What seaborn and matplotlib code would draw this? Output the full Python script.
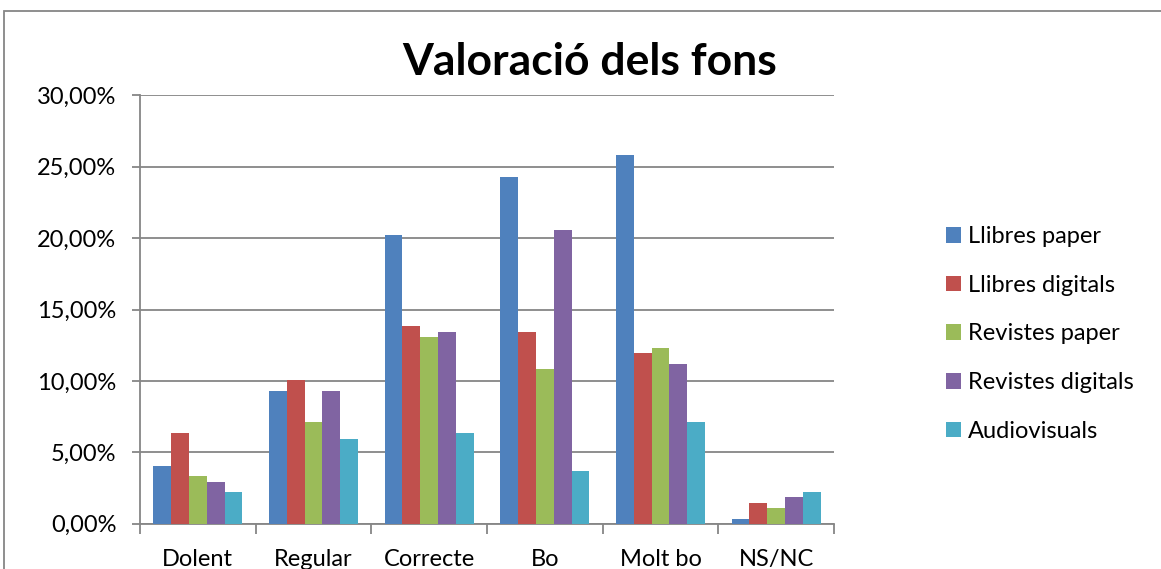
import pandas as pd
import seaborn as sns
from matplotlib import pyplot as plt
import matplotlib.ticker as mtick
from matplotlib.patches import Rectangle

categories = ["Dolent", "Regular", "Correcte", "Bo", "Molt bo", "NS/NC"]
series = ["Llibres paper", "Llibres digitals", "Revistes paper",
          "Revistes digitals", "Audiovisuals"]

llibres_paper = [4.06, 9.32, 20.20, 24.31, 25.80, 0.33]
llibres_digitals = [6.35, 10.04, 13.82, 13.45, 11.93, 1.45]
revistes_paper = [3.32, 7.10, 13.07, 10.81, 12.33, 1.07]
revistes_digitals = [2.94, 9.32, 13.45, 20.55, 11.21, 1.84]
audiovisuals = [2.19, 5.95, 6.35, 3.71, 7.10, 2.19]

colors = ["#4F81BD", "#C0504D", "#9BBB59", "#8064A2", "#4BACC6"]

values = [llibres_paper, llibres_digitals, revistes_paper,
          revistes_digitals, audiovisuals]
rows = []
for name, vals in zip(series, values):
    for cat, v in zip(categories, vals):
        rows.append({"Categoria": cat, "Fons": name, "Valor": v / 100})
df = pd.DataFrame(rows)

sns.set_style("white")
plt.rcParams["font.family"] = ["Lato", "DejaVu Sans"]
plt.rcParams["text.color"] = "black"
plt.rcParams["xtick.labelcolor"] = "black"
plt.rcParams["ytick.labelcolor"] = "black"

fig = plt.figure(figsize=(11.61, 5.69), dpi=100)
ax = fig.add_axes([140 / 1161, 1 - 523.7 / 569, 694 / 1161, 428.4 / 569])

sns.barplot(data=df, x="Categoria", y="Valor", hue="Fons",
            order=categories, hue_order=series, palette=colors,
            width=0.77, gap=0, linewidth=0, saturation=1, ax=ax, zorder=3)

grid_col = "#868686"
ax.set_ylim(0, 0.30)
ax.set_xlim(-0.5, len(categories) - 0.5)
ax.yaxis.set_major_locator(mtick.MultipleLocator(0.05))
ax.yaxis.set_major_formatter(
    mtick.FuncFormatter(lambda y, pos: f"{y * 100:.2f}%".replace(".", ",")))
ax.grid(axis="y", color=grid_col, linewidth=1.3, zorder=0)
ax.set_axisbelow(True)

for side in ["top", "right"]:
    ax.spines[side].set_visible(False)
for side in ["left", "bottom"]:
    ax.spines[side].set_color(grid_col)
    ax.spines[side].set_linewidth(1.3)

ax.tick_params(axis="y", length=6, width=1.3, color=grid_col, pad=11,
               labelsize=17, left=True, labelcolor="black")
ax.tick_params(axis="x", length=0, pad=18, labelsize=17, labelcolor="black")
ax.set_xticks(range(len(categories)), minor=False)
ax.set_xticks([i - 0.5 for i in range(len(categories) + 1)], minor=True)
ax.tick_params(axis="x", which="minor", length=7, width=1.3,
               color=grid_col, bottom=True)
ax.set_xlabel("")
ax.set_ylabel("")

fig.text(590 / 1161, 1 - 62 / 569, "Valoració dels fons", ha="center",
         va="center", fontsize=32, fontweight="bold", color="black")

leg = ax.legend(loc="center left", bbox_to_anchor=(946 / 1161, 1 - 334 / 569),
                bbox_transform=fig.transFigure, frameon=False, fontsize=17,
                handlelength=0.64, handleheight=0.64, handletextpad=0.3,
                labelspacing=1.17, borderaxespad=0, borderpad=0)
for t in leg.get_texts():
    t.set_color("black")

fig.patches.append(Rectangle((4 / 1161, -0.1), 1.2, 1.1 - 10.7 / 569,
                             transform=fig.transFigure, fill=False,
                             edgecolor=grid_col, linewidth=1.3))

fig.savefig("out.png", dpi=100)
